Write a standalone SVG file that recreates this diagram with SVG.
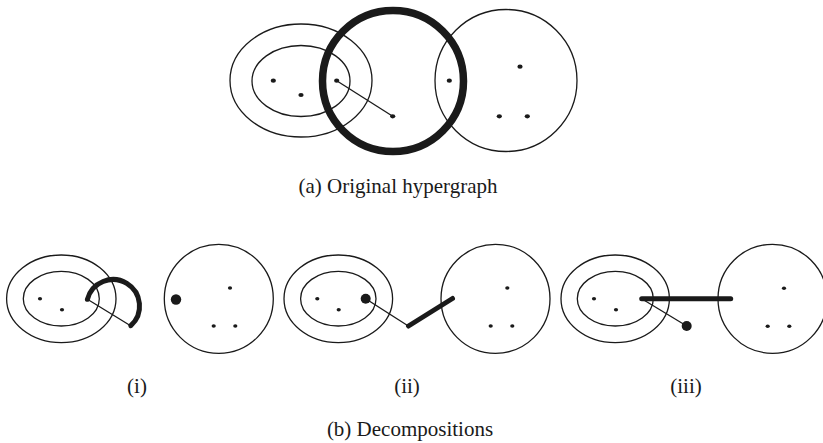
<svg xmlns="http://www.w3.org/2000/svg" width="823" height="443" viewBox="0 0 823 443">
<style>
.thin{fill:none;stroke:#1a1a1a;stroke-width:1.3}
.thick{fill:none;stroke:#1a1a1a;stroke-linecap:round}
.dot{fill:#1a1a1a}
.lbl{font-family:'Liberation Serif','DejaVu Serif',serif;font-size:21px;fill:#1a1a1a;text-anchor:middle}
</style>
<rect width="823" height="443" fill="#fff"/>
<g id="original">
<ellipse class="thin" cx="301" cy="80.5" rx="71" ry="56.5"/>
<ellipse class="thin" cx="301" cy="81" rx="49" ry="35.5"/>
<circle class="thin" cx="506" cy="80.5" r="71"/>
<circle class="thick" cx="393" cy="81" r="70.5" stroke-width="7.5"/>
<line class="thin" x1="336.7" y1="80.7" x2="392.7" y2="116.3"/>
<ellipse class="dot" cx="273.3" cy="80.7" rx="2.6" ry="2.1"/>
<ellipse class="dot" cx="301" cy="95" rx="2.6" ry="2.1"/>
<ellipse class="dot" cx="336.7" cy="80.7" rx="2.6" ry="2.1"/>
<ellipse class="dot" cx="392.7" cy="116.3" rx="2.6" ry="2.1"/>
<ellipse class="dot" cx="449.3" cy="80.7" rx="2.6" ry="2.1"/>
<ellipse class="dot" cx="520" cy="66.7" rx="2.6" ry="2.1"/>
<ellipse class="dot" cx="499.3" cy="116.3" rx="2.6" ry="2.1"/>
<ellipse class="dot" cx="527.3" cy="116.3" rx="2.6" ry="2.1"/>
<text class="lbl" font-family="Liberation Serif, serif" x="398" y="193">(a) Original hypergraph</text>
</g>
<g id="decomp-i">
<ellipse class="thin" cx="61.3" cy="298.8" rx="54.7" ry="43.8"/>
<ellipse class="thin" cx="61.3" cy="298.7" rx="38" ry="27.3"/>
<circle class="thin" cx="218.8" cy="298.8" r="54.5"/>
<path class="thick" stroke-width="5" d="M87.4,299.3 A26.5,26.5 0 1 1 130.8,325.7"/>
<line class="thin" x1="87.4" y1="299.3" x2="131" y2="326"/>
<ellipse class="dot" cx="40" cy="298.7" rx="2.1" ry="1.7"/>
<ellipse class="dot" cx="62" cy="309.7" rx="2.1" ry="1.7"/>
<circle class="dot" cx="176" cy="299.5" r="5.2"/>
<ellipse class="dot" cx="230" cy="288" rx="2.1" ry="1.7"/>
<ellipse class="dot" cx="213.7" cy="326" rx="2.1" ry="1.7"/>
<ellipse class="dot" cx="235.3" cy="326" rx="2.1" ry="1.7"/>
<text class="lbl" font-family="Liberation Serif, serif" x="137" y="393">(i)</text>
</g>
<g id="decomp-ii">
<ellipse class="thin" cx="338.3" cy="298.8" rx="54.3" ry="43.8"/>
<ellipse class="thin" cx="338.3" cy="298.7" rx="37.7" ry="27.3"/>
<circle class="thin" cx="495.5" cy="298.8" r="54.5"/>
<line class="thin" x1="365.7" y1="298.7" x2="408.3" y2="326"/>
<line class="thick" stroke-width="5" x1="408.5" y1="326" x2="452.5" y2="298.5"/>
<ellipse class="dot" cx="317.3" cy="298.7" rx="2.1" ry="1.7"/>
<ellipse class="dot" cx="338.7" cy="309.7" rx="2.1" ry="1.7"/>
<circle class="dot" cx="365.7" cy="298.7" r="5"/>
<ellipse class="dot" cx="507.3" cy="288" rx="2.1" ry="1.7"/>
<ellipse class="dot" cx="490.7" cy="326" rx="2.1" ry="1.7"/>
<ellipse class="dot" cx="512.3" cy="326" rx="2.1" ry="1.7"/>
<text class="lbl" font-family="Liberation Serif, serif" x="407" y="393">(ii)</text>
</g>
<g id="decomp-iii">
<ellipse class="thin" cx="615.2" cy="298.8" rx="54.2" ry="43.8"/>
<ellipse class="thin" cx="615.3" cy="298.7" rx="38" ry="27.3"/>
<circle class="thin" cx="772.5" cy="298.8" r="54.5"/>
<line class="thin" x1="641.7" y1="298.7" x2="686.7" y2="326"/>
<line class="thick" stroke-width="5" x1="641.7" y1="298.7" x2="730.7" y2="298.7"/>
<ellipse class="dot" cx="594" cy="298.7" rx="2.1" ry="1.7"/>
<ellipse class="dot" cx="616" cy="309.7" rx="2.1" ry="1.7"/>
<circle class="dot" cx="686.7" cy="326" r="5"/>
<ellipse class="dot" cx="784" cy="288.3" rx="2.1" ry="1.7"/>
<ellipse class="dot" cx="767.7" cy="326.3" rx="2.1" ry="1.7"/>
<ellipse class="dot" cx="789.3" cy="326.3" rx="2.1" ry="1.7"/>
<text class="lbl" font-family="Liberation Serif, serif" x="686" y="393">(iii)</text>
</g>
<g id="captions">
<text class="lbl" font-family="Liberation Serif, serif" x="410" y="435.5">(b) Decompositions</text>
</g>
</svg>
